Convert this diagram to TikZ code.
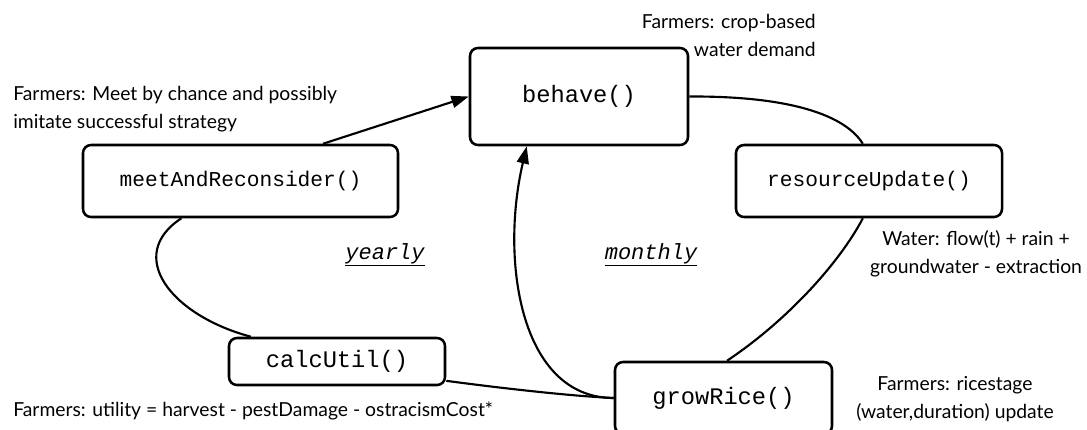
\documentclass[tikz,border=0pt]{standalone}
\usepackage{fontspec}
\setmainfont{Lato}
\setmonofont{Liberation Mono}
\usetikzlibrary{arrows.meta,calc}
\begin{document}
\begin{tikzpicture}[x=0.75pt,y=-0.75pt,
  func/.style={draw,line width=1.9pt,rounded corners=6pt,inner sep=0pt,
    font=\ttfamily\fontsize{17.8}{20}\selectfont},
  smallfunc/.style={func,font=\ttfamily\fontsize{15.9}{18}\selectfont},
  note/.style={inner sep=0pt,font=\fontsize{14.5}{20.5}\selectfont},
  period/.style={inner sep=0pt,font=\ttfamily\itshape\fontsize{16.5}{18}\selectfont},
  link/.style={line width=1.6pt},
  tip/.style={-{Triangle[length=13pt,width=9pt]}}]

\useasboundingbox (0,0) rectangle (1087,429);
\clip (0,0) rectangle (1087,429);

% function boxes
\node[func,minimum width=163.5pt,minimum height=72.75pt] (behave) at (579,96.5) {behave()};
\node[smallfunc,minimum width=236.25pt,minimum height=54pt] (meet) at (240.5,181) {meetAndReconsider()};
\node[smallfunc,minimum width=199.5pt,minimum height=54pt] (resource) at (869,181) {resourceUpdate()};
\node[func,minimum width=162pt,minimum height=35.25pt] (calc) at (337,361.5) {calcUtil()};
\node[func,minimum width=162.75pt,minimum height=54pt] (grow) at (723.5,398) {growRice()};

% connectors
\draw[link,tip] ($(meet.north west)!0.76!(meet.north east)$) -- (behave.west);
\draw[link] (behave.east) .. controls (790,96) and (845,115) ..
  ($(resource.north west)!0.477!(resource.north east)$);
\draw[link] ($(resource.south west)!0.477!(resource.south east)$) .. controls (840,262) and (788,320) ..
  ($(grow.north west)!0.516!(grow.north east)$);
\draw[link,tip] (grow.west) .. controls (520,398) and (500,260) ..
  ($(behave.south west)!0.263!(behave.south east)$);
\draw[link] ($(calc.north east)!0.89!(calc.south east)$) .. controls (500,388) and (570,396) .. (grow.west);
\draw[link] ($(meet.south west)!0.314!(meet.south east)$) .. controls (125,255) and (170,315) ..
  ($(calc.north west)!0.106!(calc.north east)$);

% annotations (a multi-line note sits on the baseline of its last line)
\node[note,anchor=base west,align=left] (meetnote) at (13,128)
  {Farmers: Meet by chance and possibly\\imitate successful strategy};
\node[note,anchor=base east,align=right] (cropnote) at (816,56)
  {Farmers: crop-based\\water demand};
\node[note,anchor=base,align=center] (waternote) at (976,273)
  {Water: flow(t) + rain +\\groundwater - extraction};
\node[note,anchor=base west] (utilnote) at (13,416)
  {Farmers: utility = harvest - pestDamage - ostracismCost*};
\node[note,anchor=base,align=center] (ricenote) at (955,418)
  {Farmers: ricestage\\(water,duration) update};
\node[period,anchor=base] (yearly) at (385,259) {\underline{yearly}};
\node[period,anchor=base] (monthly) at (651,259) {\underline{monthly}};
\end{tikzpicture}
\end{document}
